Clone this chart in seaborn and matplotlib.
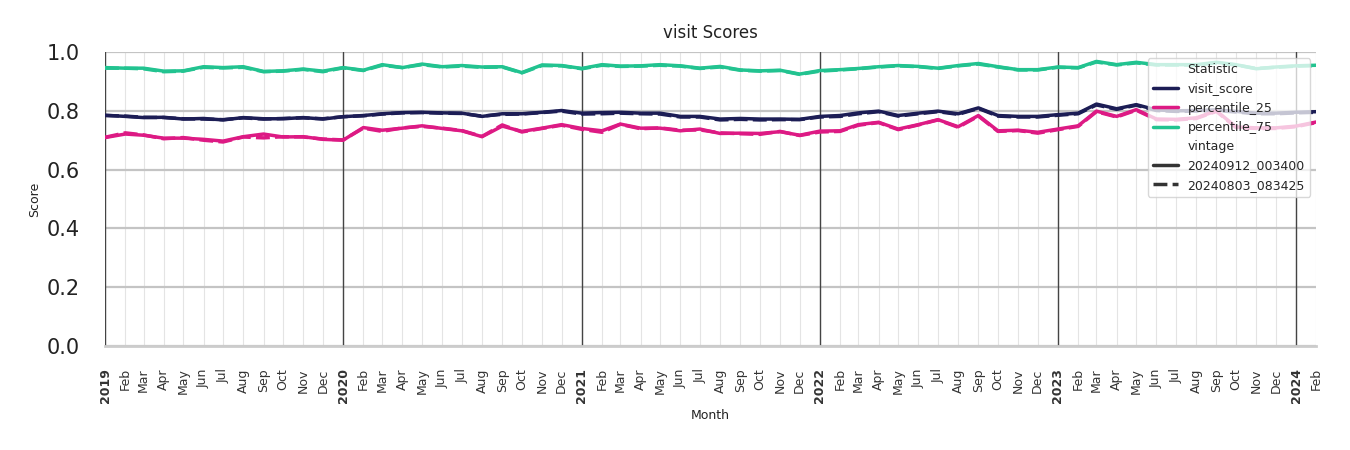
import pandas as pd
import seaborn as sns
import matplotlib.pyplot as plt

# ---------------- data ----------------
months = pd.date_range("2019-01-01", "2024-02-01", freq="MS")

visit_score_a = [.785, .781, .777, .778, .772, .774, .769, .777, .773, .773, .777, .772,
                 .780, .784, .790, .794, .795, .793, .792, .781, .790, .790, .795, .801,
                 .792, .794, .795, .792, .792, .781, .781, .772, .774, .772, .772, .771,
                 .781, .784, .793, .799, .784, .792, .799, .790, .810, .784, .781, .781,
                 .787, .792, .823, .807, .821, .803, .800, .801, .803, .798, .792, .792,
                 .795, .797]
p25_a = [.709, .721, .717, .707, .707, .703, .697, .712, .721, .711, .712, .703,
         .700, .743, .734, .741, .749, .740, .732, .712, .748, .730, .741, .753,
         .740, .732, .755, .741, .741, .732, .738, .723, .724, .723, .729, .717,
         .731, .732, .753, .761, .738, .753, .770, .746, .784, .732, .734, .727,
         .738, .749, .799, .781, .804, .772, .771, .776, .800, .745, .742, .742,
         .748, .762]
p75_a = [.947, .945, .945, .935, .936, .950, .947, .950, .934, .936, .942, .935,
         .947, .938, .957, .947, .959, .950, .954, .949, .950, .930, .956, .954,
         .944, .957, .952, .953, .957, .953, .945, .951, .939, .936, .938, .925,
         .937, .940, .944, .950, .954, .951, .945, .954, .961, .950, .940, .940,
         .949, .947, .968, .957, .965, .957, .957, .957, .965, .957, .943, .949,
         .953, .955]

visit_score_b = [.784, .782, .778, .777, .773, .772, .770, .776, .772, .774, .776, .773,
                 .780, .783, .789, .793, .794, .792, .791, .782, .788, .789, .794, .799,
                 .789, .790, .792, .790, .789, .779, .779, .769, .771, .769, .770, .770,
                 .779, .781, .790, .797, .782, .790, .797, .788, .808, .782, .779, .779,
                 .785, .790, .820, .805, .819, .801, .798, .799, .801, .796, .790, .790,
                 .793, .795]
p25_b = [.710, .725, .718, .705, .709, .700, .694, .711, .708, .712, .711, .704,
         .701, .741, .730, .742, .747, .741, .733, .713, .752, .728, .740, .751,
         .737, .727, .754, .739, .742, .734, .735, .725, .722, .720, .730, .716,
         .728, .730, .751, .760, .736, .752, .769, .744, .782, .730, .733, .724,
         .736, .747, .797, .779, .802, .770, .769, .774, .798, .743, .740, .740,
         .746, .760]
p75_b = [.945, .945, .943, .933, .935, .948, .946, .948, .933, .935, .941, .933,
         .946, .937, .955, .947, .957, .949, .952, .948, .949, .929, .954, .953,
         .943, .955, .951, .952, .955, .952, .944, .949, .938, .935, .937, .924,
         .935, .939, .943, .949, .953, .950, .944, .953, .959, .949, .939, .939,
         .948, .946, .966, .956, .963, .956, .956, .956, .963, .956, .944, .948,
         .952, .954]

statistics = ["visit_score", "percentile_25", "percentile_75"]
vintages = ["20240912_003400", "20240803_083425"]
series = {
    ("visit_score", vintages[0]): visit_score_a,
    ("percentile_25", vintages[0]): p25_a,
    ("percentile_75", vintages[0]): p75_a,
    ("visit_score", vintages[1]): visit_score_b,
    ("percentile_25", vintages[1]): p25_b,
    ("percentile_75", vintages[1]): p75_b,
}

rows = []
for (stat, vin), vals in series.items():
    for m, v in zip(months, vals):
        rows.append({"Month": m, "Score": v, "Statistic": stat, "vintage": vin})
df = pd.DataFrame(rows)

palette = {"visit_score": "#1c1d55", "percentile_25": "#dd1a84", "percentile_75": "#22c390"}

# ---------------- plot ----------------
sns.set_theme(style="whitegrid")
plt.rcParams['font.family'] = ['DejaVu Sans']

fig, ax = plt.subplots(figsize=(13.5, 4.5), dpi=100)
fig.subplots_adjust(left=0.0778, right=0.975, top=0.8844, bottom=0.2311)

sns.lineplot(data=df, x="Month", y="Score", hue="Statistic", style="vintage",
             hue_order=statistics, style_order=vintages, palette=palette,
             linewidth=2.5, ax=ax)

ax.set_xlim(months[0], months[-1])
ax.set_ylim(0, 1.0)
ax.set_yticks([0, 0.2, 0.4, 0.6, 0.8, 1.0])
ax.tick_params(axis='y', labelsize=15, pad=12, colors='#222222')

ax.set_xticks(months)
labels = [str(m.year) if m.month == 1 else m.strftime("%b") for m in months]
ax.set_xticklabels(labels, rotation=90, fontsize=9, color='#333333')
for lab, m in zip(ax.get_xticklabels(), months):
    if m.month == 1:
        lab.set_fontweight('bold')
ax.tick_params(axis='x', pad=10)

ax.grid(axis='y', color='#c4c4c4', linewidth=1.6)
ax.grid(axis='x', color='#e4e4e4', linewidth=0.8)

for m in months:
    if m.month == 1:
        ax.axvline(m, color='#444444', linewidth=1.0, zorder=1.5)

for s in ['left', 'right', 'top']:
    ax.spines[s].set_visible(False)
ax.spines['bottom'].set_color('#cccccc')
ax.spines['bottom'].set_linewidth(2)

ax.set_title("visit Scores", fontsize=12, color='#222222', pad=10)
ax.set_ylabel("Score", fontsize=9, color='#222222')
ax.set_xlabel("Month", fontsize=9, color='#222222')

sns.move_legend(ax, "upper right", fontsize=9, framealpha=0.75)

fig.savefig("out.png", dpi=100)
